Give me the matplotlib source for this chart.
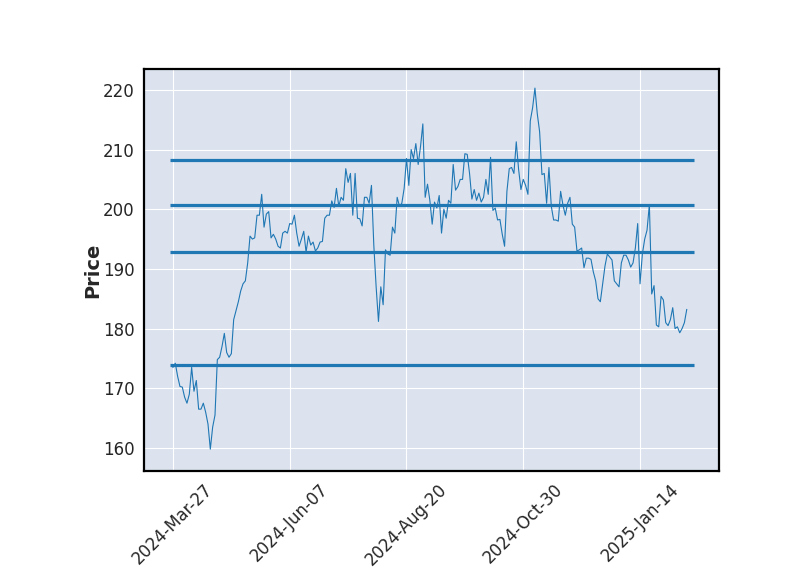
import matplotlib
matplotlib.use("Agg")
import matplotlib.pyplot as plt

# closing prices, one per trading day starting 2024-Mar-27
close = [
    173.5, 174.2, 172.0, 170.3, 170.2, 168.5, 167.5, 169.0, 173.5, 169.5,
    171.3, 166.5, 166.5, 167.5, 166.0, 164.0, 159.8, 163.5, 165.5, 174.8,
    175.2, 177.0, 179.2, 176.0, 175.2, 175.8, 181.5, 183.0, 184.5, 186.3,
    187.5, 188.0, 191.0, 195.5, 195.0, 195.2, 199.0, 199.0, 202.5, 197.0,
    199.2, 199.6, 195.2, 195.8, 195.0, 193.8, 193.5, 196.0, 196.3, 196.0,
    197.6, 197.5, 199.0, 196.0, 193.8, 195.0, 196.3, 192.8, 195.5, 194.0,
    194.5, 193.0, 193.5, 194.5, 194.6, 198.5, 199.0, 199.0, 201.4, 200.3,
    203.5, 200.5, 202.0, 201.5, 206.8, 204.5, 206.0, 199.0, 206.0, 198.5,
    198.4, 197.2, 202.0, 202.0, 201.0, 204.0, 194.0, 187.0, 181.2, 187.0,
    184.0, 193.2, 192.5, 192.3, 197.0, 196.0, 202.0, 200.5, 201.0, 203.5,
    208.5, 204.0, 210.0, 208.5, 211.0, 207.5, 210.5, 214.3, 202.0, 204.2,
    201.5, 197.5, 201.2, 200.2, 202.3, 196.0, 200.0, 198.5, 201.5, 201.0,
    207.5, 203.2, 203.8, 205.0, 205.0, 209.3, 209.2, 206.0, 201.7, 203.3,
    201.5, 202.7, 201.2, 202.0, 205.0, 202.5, 208.7, 199.8, 200.2, 198.2,
    198.3, 195.8, 193.8, 203.0, 206.8, 207.0, 206.0, 211.3, 206.7, 203.3,
    205.0, 204.0, 202.5, 214.8, 217.0, 220.3, 216.0, 213.0, 205.8, 206.0,
    201.0, 207.0, 200.5, 198.2, 198.2, 198.0, 203.0, 200.7, 199.0, 201.0,
    202.0, 197.5, 197.0, 193.0, 193.2, 193.5, 190.2, 191.8, 191.8, 191.6,
    189.5, 188.0, 185.0, 184.5, 187.5, 190.5, 192.5, 192.0, 191.5, 188.0,
    187.5, 187.0, 191.0, 192.3, 192.3, 191.5, 190.3, 191.0, 193.5, 197.6,
    187.5, 192.5, 195.0, 196.5, 200.8, 185.8, 187.2, 180.6, 180.3, 185.4,
    184.8, 181.0, 180.5, 181.5, 183.5, 180.0, 180.3, 179.3, 180.0, 181.0,
    183.2,
]

# support / resistance levels
levels = [208.26, 200.72, 192.76, 173.9]

tick_pos = [0, 50, 100, 150, 200]
tick_labels = ["2024-Mar-27", "2024-Jun-07", "2024-Aug-20", "2024-Oct-30", "2025-Jan-14"]

fig = plt.figure(figsize=(8, 5.75), dpi=100)
ax = fig.add_axes([0.18, 0.181, 0.719, 0.699])
ax.set_facecolor("#DCE3EF")
ax.grid(True, color="white", linewidth=0.8)
ax.set_axisbelow(True)

xs = list(range(len(close)))
ax.plot(xs, close, color="#1f77b4", linewidth=0.8)
ax.hlines(levels, xmin=-1.3, xmax=223, colors="#1f77b4", linewidth=2.3)

ax.set_xlim(-12.4, 233.9)
ax.set_ylim(156.15, 223.5)
ax.set_xticks(tick_pos)
ax.set_xticklabels(tick_labels, rotation=45, ha="center", fontsize=12)
ax.set_yticks([160, 170, 180, 190, 200, 210, 220])
ax.tick_params(axis="y", labelsize=12)
ax.tick_params(length=0, pad=7, labelcolor="#262626")
ax.set_ylabel("Price", fontsize=14, fontweight="bold", color="#262626", labelpad=0)

for sp in ax.spines.values():
    sp.set_linewidth(1.6)
    sp.set_color("black")

fig.savefig("out.png", dpi=100)
